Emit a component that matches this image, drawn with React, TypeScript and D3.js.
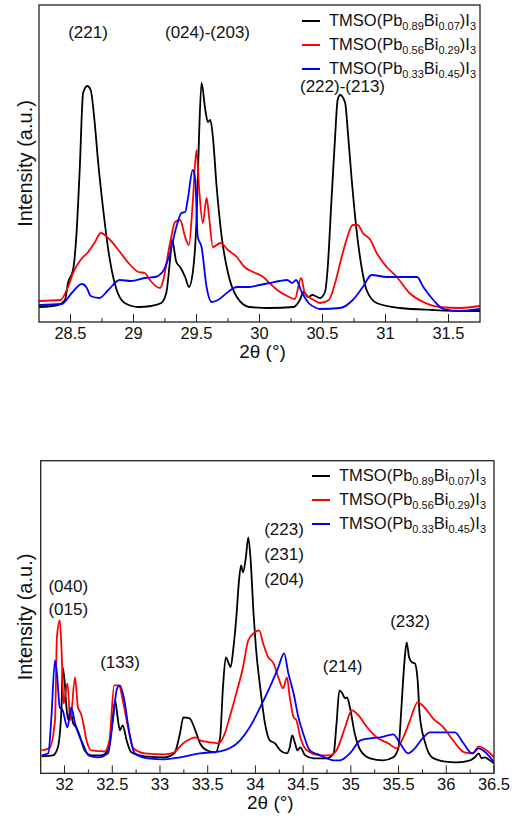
import React from "react";
import * as d3 from "d3";

type P = [number, number];

// ---------- Top panel data (2θ, intensity a.u.) ----------
const topBlack: P[] = [
  [28.25, 15], [28.4, 17], [28.456, 22], [28.48, 39], [28.52, 52], [28.546, 85], [28.573, 152],
  [28.6, 229], [28.633, 236], [28.66, 232], [28.69, 202], [28.72, 159], [28.76, 112], [28.8, 72],
  [28.85, 39], [28.93, 19], [29.04, 15], [29.14, 16], [29.22, 19], [29.26, 29], [29.29, 62],
  [29.306, 82], [29.34, 60], [29.37, 55], [29.41, 45], [29.44, 35], [29.47, 49], [29.5, 102],
  [29.52, 185], [29.54, 239], [29.57, 212], [29.59, 200], [29.61, 202], [29.63, 185], [29.66, 135],
  [29.7, 85], [29.75, 49], [29.82, 25], [29.92, 15], [30.08, 14], [30.27, 15], [30.32, 22],
  [30.35, 30], [30.385, 25], [30.42, 27], [30.48, 24], [30.52, 30], [30.54, 52], [30.57, 119],
  [30.6, 185], [30.62, 222], [30.64, 227], [30.68, 219], [30.7, 192], [30.73, 145], [30.77, 92],
  [30.81, 55], [30.85, 32], [30.93, 19], [31.115, 14], [31.38, 12], [31.64, 11], [31.75, 11],
];
const topRed: P[] = [
  [28.25, 21], [28.42, 22], [28.48, 35], [28.53, 52], [28.58, 62], [28.64, 70], [28.69, 79],
  [28.74, 89], [28.8, 84], [28.88, 72], [28.96, 59], [29.04, 50], [29.09, 49], [29.13, 42],
  [29.21, 34], [29.23, 39], [29.29, 79], [29.33, 100], [29.37, 102], [29.41, 85], [29.44, 77],
  [29.47, 119], [29.5, 172], [29.52, 135], [29.55, 99], [29.58, 124], [29.6, 105], [29.63, 75],
  [29.69, 79], [29.75, 72], [29.82, 65], [29.88, 55], [29.95, 50], [30.03, 45], [30.08, 39],
  [30.14, 32], [30.22, 26], [30.28, 23], [30.33, 44], [30.36, 29], [30.43, 22], [30.48, 19],
  [30.55, 22], [30.6, 39], [30.64, 59], [30.69, 82], [30.74, 97], [30.78, 97], [30.82, 89],
  [30.88, 82], [30.93, 69], [31.01, 55], [31.09, 45], [31.19, 29], [31.3, 20], [31.43, 15],
  [31.59, 14], [31.75, 16],
];
const topBlue: P[] = [
  [28.25, 17], [28.43, 18], [28.51, 29], [28.59, 38], [28.63, 34], [28.66, 26], [28.73, 24],
  [28.8, 32], [28.89, 42], [28.98, 41], [29.09, 44], [29.17, 45], [29.23, 50], [29.29, 69],
  [29.34, 95], [29.38, 109], [29.41, 110], [29.43, 122], [29.47, 152], [29.49, 142], [29.51, 85],
  [29.54, 75], [29.58, 35], [29.62, 20], [29.67, 22], [29.75, 30], [29.82, 35], [29.92, 35],
  [30.0, 37], [30.08, 39], [30.16, 41], [30.22, 42], [30.26, 39], [30.29, 42], [30.335, 30],
  [30.39, 19], [30.45, 14], [30.48, 13], [30.64, 14], [30.74, 22], [30.82, 35], [30.89, 47],
  [31.01, 45], [31.115, 45], [31.25, 45], [31.3, 35], [31.38, 22], [31.46, 13], [31.59, 11],
  [31.75, 13],
];

// ---------- Bottom panel data ----------
const botBlack: P[] = [
  [31.76, 17], [31.88, 18], [31.93, 26], [31.97, 70], [31.98, 106], [32.0, 93], [32.02, 66],
  [32.04, 53], [32.06, 63], [32.09, 50], [32.12, 46], [32.15, 40], [32.18, 31], [32.21, 23],
  [32.28, 18], [32.385, 18], [32.455, 23], [32.5, 50], [32.53, 73], [32.56, 53], [32.58, 43],
  [32.61, 48], [32.65, 33], [32.7, 21], [32.84, 17], [33.05, 16], [33.15, 20], [33.21, 40],
  [33.245, 56], [33.31, 55], [33.37, 43], [33.42, 30], [33.49, 23], [33.58, 21], [33.63, 36],
  [33.66, 86], [33.69, 116], [33.72, 110], [33.74, 106], [33.77, 126], [33.8, 156], [33.83, 195],
  [33.85, 208], [33.87, 201], [33.9, 216], [33.925, 236], [33.95, 213], [33.98, 160], [34.005, 126],
  [34.05, 86], [34.1, 50], [34.15, 33], [34.205, 30], [34.26, 23], [34.33, 20], [34.36, 26],
  [34.385, 38], [34.415, 30], [34.44, 23], [34.47, 26], [34.52, 18], [34.61, 15], [34.75, 15],
  [34.82, 20], [34.85, 50], [34.88, 83], [34.91, 80], [34.94, 75], [34.96, 76], [34.99, 66],
  [35.04, 40], [35.1, 23], [35.2, 15], [35.34, 13], [35.445, 16], [35.5, 26], [35.53, 66],
  [35.56, 110], [35.585, 131], [35.61, 116], [35.64, 111], [35.67, 110], [35.7, 93], [35.72, 60],
  [35.78, 30], [35.85, 16], [35.97, 12], [36.11, 11], [36.25, 13], [36.3, 16], [36.34, 20],
  [36.37, 15], [36.405, 16], [36.44, 14], [36.5, 10],
];
const botRed: P[] = [
  [31.76, 23], [31.84, 25], [31.9, 53], [31.92, 136], [31.95, 153], [31.97, 120], [31.99, 70],
  [32.03, 90], [32.06, 53], [32.11, 96], [32.14, 66], [32.17, 60], [32.19, 53], [32.23, 33],
  [32.28, 23], [32.42, 22], [32.47, 33], [32.52, 88], [32.57, 88], [32.61, 73], [32.665, 46],
  [32.72, 25], [32.84, 20], [33.05, 19], [33.15, 21], [33.22, 28], [33.29, 33], [33.37, 36],
  [33.42, 33], [33.52, 31], [33.61, 30], [33.68, 40], [33.73, 56], [33.8, 80], [33.87, 106],
  [33.925, 133], [33.98, 140], [34.04, 143], [34.08, 130], [34.135, 116], [34.19, 110], [34.24, 96],
  [34.29, 85], [34.33, 96], [34.36, 76], [34.4, 56], [34.43, 53], [34.47, 36], [34.54, 23],
  [34.68, 18], [34.78, 18], [34.85, 23], [34.94, 46], [35.01, 63], [35.08, 58], [35.17, 46],
  [35.27, 36], [35.39, 30], [35.48, 25], [35.55, 36], [35.62, 53], [35.7, 71], [35.78, 65],
  [35.86, 55], [35.97, 46], [36.07, 33], [36.19, 21], [36.28, 20], [36.34, 27], [36.39, 25],
  [36.46, 20], [36.5, 16],
];
const botBlue: P[] = [
  [31.76, 18], [31.83, 20], [31.86, 53], [31.9, 113], [31.92, 100], [31.95, 66], [31.98, 63],
  [32.03, 46], [32.07, 66], [32.11, 50], [32.16, 36], [32.19, 30], [32.25, 18], [32.35, 16],
  [32.455, 20], [32.51, 56], [32.55, 85], [32.58, 88], [32.62, 76], [32.68, 40], [32.735, 20],
  [32.87, 15], [33.05, 14], [33.21, 16], [33.42, 20], [33.63, 22], [33.73, 25], [33.84, 33],
  [33.94, 46], [34.05, 66], [34.15, 86], [34.24, 106], [34.3, 120], [34.345, 100], [34.4, 80],
  [34.45, 56], [34.5, 40], [34.57, 23], [34.68, 18], [34.82, 13], [34.885, 13], [34.99, 20],
  [35.1, 33], [35.2, 35], [35.31, 36], [35.445, 39], [35.515, 30], [35.6, 20], [35.67, 25],
  [35.76, 36], [35.83, 41], [35.97, 41], [36.09, 41], [36.18, 30], [36.27, 20], [36.34, 25],
  [36.41, 21], [36.5, 11],
];

const topTicks = [28.5, 29, 29.5, 30, 30.5, 31, 31.5];
const topMinor = [28.75, 29.25, 29.75, 30.25, 30.75, 31.25];
const botTicks = [32, 32.5, 33, 33.5, 34, 34.5, 35, 35.5, 36, 36.5];
const botMinor = [32.25, 32.75, 33.25, 33.75, 34.25, 34.75, 35.25, 35.75, 36.25];

const seriesSubs: [string, string][] = [
  ["0.89", "0.07"],
  ["0.56", "0.29"],
  ["0.33", "0.45"],
];
const seriesColors = ["#000000", "#ff0000", "#0000ff"];

const topNotes: { t: string; x: number; y: number }[] = [
  { t: "(221)", x: 88, y: 38 },
  { t: "(024)-(203)", x: 207.5, y: 38 },
  { t: "(222)-(213)", x: 342.5, y: 92 },
];
const botNotes: { t: string; x: number; y: number }[] = [
  { t: "(040)", x: 68.3, y: 592 },
  { t: "(015)", x: 68.3, y: 615 },
  { t: "(133)", x: 120, y: 668 },
  { t: "(223)", x: 284, y: 535 },
  { t: "(231)", x: 284, y: 560 },
  { t: "(204)", x: 284, y: 585 },
  { t: "(214)", x: 342.7, y: 672 },
  { t: "(232)", x: 410, y: 627 },
];

const FONT = "'Liberation Sans', Arial, Helvetica, sans-serif";

type PanelProps = {
  id: string;
  left: number; right: number; top: number; bottom: number;
  xDomain: [number, number];
  yMax: number;
  ticks: number[]; minor: number[];
  series: P[][];
  legendX: number; legendY: number;
  notes: { t: string; x: number; y: number }[];
};

function Panel(p: PanelProps) {
  const x = d3.scaleLinear().domain(p.xDomain).range([p.left, p.right]);
  const y = d3.scaleLinear().domain([0, p.yMax]).range([p.bottom, p.top]);
  const line = d3.line<P>().x((d) => x(d[0])).y((d) => y(d[1])).curve(d3.curveMonotoneX);
  const cy = (p.top + p.bottom) / 2;
  return (
    <g>
      <defs>
        <clipPath id={p.id}>
          <rect x={p.left} y={p.top} width={p.right - p.left} height={p.bottom - p.top} />
        </clipPath>
      </defs>
      <g clipPath={`url(#${p.id})`}>
        {p.series.map((s, i) => (
          <path key={i} d={line(s) || ""} fill="none" stroke={seriesColors[i]} strokeWidth={1.8} strokeLinejoin="round" />
        ))}
      </g>
      <rect x={p.left} y={p.top} width={p.right - p.left} height={p.bottom - p.top} fill="none" stroke="#222" strokeWidth={1.3} />
      {p.ticks.map((t) => (
        <g key={"M" + t}>
          <line x1={x(t)} x2={x(t)} y1={p.bottom} y2={p.bottom - 8} stroke="#222" strokeWidth={1} />
          <text x={x(t)} y={p.bottom + 17} textAnchor="middle" fontSize={16.5} fontFamily={FONT} fill="#111">
            {String(t)}
          </text>
        </g>
      ))}
      {p.minor.map((t) => (
        <line key={"m" + t} x1={x(t)} x2={x(t)} y1={p.bottom} y2={p.bottom - 4} stroke="#222" strokeWidth={1} />
      ))}
      <text x={(p.left + p.right) / 2 + 3} y={p.bottom + 36} textAnchor="middle" fontSize={19} fontFamily={FONT} fill="#111">
        2θ (°)
      </text>
      <text transform={`translate(31.5,${cy}) rotate(-90)`} textAnchor="middle" fontSize={20} fontFamily={FONT} fill="#111">
        Intensity (a.u.)
      </text>
      {seriesSubs.map((s, i) => {
        const ly = p.legendY + i * 24;
        return (
          <g key={"lg" + i}>
            <line x1={p.legendX} x2={p.legendX + 18} y1={ly} y2={ly} stroke={seriesColors[i]} strokeWidth={2} />
            <text x={p.legendX + 27} y={ly + 5} fontSize={16.5} fontFamily={FONT} fill="#111">
              TMSO(Pb
              <tspan dy={4} fontSize={11}>{s[0]}</tspan>
              <tspan dy={-4}>Bi</tspan>
              <tspan dy={4} fontSize={11}>{s[1]}</tspan>
              <tspan dy={-4}>)I</tspan>
              <tspan dy={4} fontSize={11}>3</tspan>
            </text>
          </g>
        );
      })}
      {p.notes.map((n, i) => (
        <text key={"n" + i} x={n.x} y={n.y} textAnchor="middle" fontSize={17} fontFamily={FONT} fill="#111">
          {n.t}
        </text>
      ))}
    </g>
  );
}

export default function App() {
  return (
    <svg width={516} height={818} style={{ position: "absolute", left: 0, top: 0, background: "#fff" }}>
      <rect x={0} y={0} width={516} height={818} fill="#fff" />
      <Panel
        id="clipTop"
        left={39} right={480} top={5} bottom={322}
        xDomain={[28.25, 31.75]} yMax={317}
        ticks={topTicks} minor={topMinor}
        series={[topBlack, topRed, topBlue]}
        legendX={302} legendY={21}
        notes={topNotes}
      />
      <Panel
        id="clipBot"
        left={40.7} right={494} top={460.7} bottom={773.3}
        xDomain={[31.75, 36.5]} yMax={312.6}
        ticks={botTicks} minor={botMinor}
        series={[botBlack, botRed, botBlue]}
        legendX={312} legendY={476}
        notes={botNotes}
      />
    </svg>
  );
}
